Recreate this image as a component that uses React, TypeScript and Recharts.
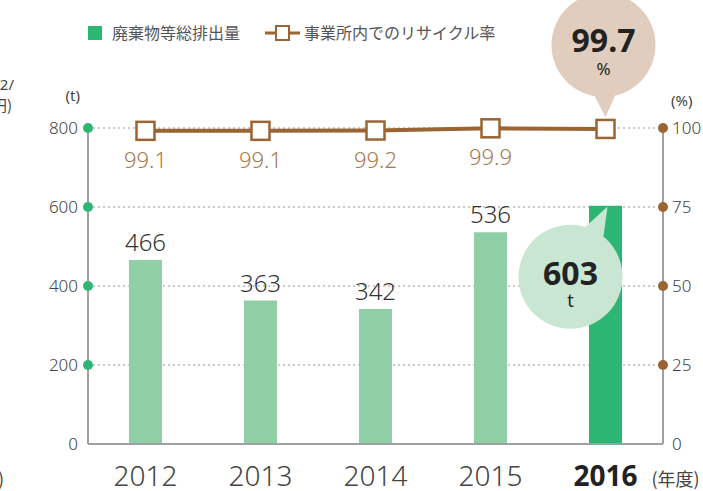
import { ComposedChart, Bar, Line, XAxis, YAxis, CartesianGrid, Cell, LabelList } from 'recharts'

const years = ['2012', '2013', '2014', '2015', '2016']
const emissions = [466, 363, 342, 536, 603]
const recycleRate = [99.1, 99.1, 99.2, 99.9, 99.7]
const leftTicks = [0, 200, 400, 600, 800]
const rightTicks = [0, 25, 50, 75, 100]
const highlightYear = '2016'

const data = years.map((year, i) => ({ year, emissions: emissions[i], rate: recycleRate[i] }))

const W = 703
const H = 491
const PLOT_LEFT = 88
const RIGHT_AXIS_W = 40
const PLOT_RIGHT = W - RIGHT_AXIS_W
const FONT = "'Noto Sans', 'Noto Sans CJK JP', sans-serif"
const JP = "'Noto Sans CJK JP', sans-serif"

const GREEN = '#2db673'
const LIGHT_GREEN = '#8fcfa6'
const BROWN = '#9a6433'
const AXIS = '#a0a0a0'

function LeftTick({ y, payload }: any) {
  return (
    <g>
      {payload.value !== 0 && <circle cx={PLOT_LEFT} cy={y} r={5} fill={GREEN} />}
      <text x={PLOT_LEFT - 10} y={y + 6} textAnchor="end" fontSize={17} fill="#444" fontFamily={FONT} fontWeight={300}>
        {payload.value}
      </text>
    </g>
  )
}

function RightTick({ y, payload }: any) {
  return (
    <g>
      {payload.value !== 0 && <circle cx={PLOT_RIGHT} cy={y} r={5} fill={BROWN} />}
      <text x={PLOT_RIGHT + 9} y={y + 6} textAnchor="start" fontSize={17} fill="#444" fontFamily={FONT} fontWeight={300}>
        {payload.value}
      </text>
    </g>
  )
}

function YearTick({ x, y, payload }: any) {
  const bold = payload.value === highlightYear
  return (
    <g>
      <text x={x} y={y + 34} textAnchor="middle" fontSize={28} fontWeight={bold ? 700 : 300} fill={bold ? '#222' : '#444'} fontFamily={FONT}>
        {payload.value}
      </text>
      {bold && (
        <text x={x + 46} y={y + 34} fontSize={18} fill="#444" fontFamily={JP}>(年度)</text>
      )}
    </g>
  )
}

function SquareDot({ cx, cy }: any) {
  return <rect x={cx - 9} y={cy - 9} width={18} height={18} fill="#fff" stroke={BROWN} strokeWidth={2.5} />
}

function bubble(cx: number, cy: number, r: number, tipX: number, tipY: number, fill: string) {
  const ang = Math.atan2(tipY - cy, tipX - cx)
  const spread = 0.2
  const p1 = [cx + r * Math.cos(ang - spread), cy + r * Math.sin(ang - spread)]
  const p2 = [cx + r * Math.cos(ang + spread), cy + r * Math.sin(ang + spread)]
  return (
    <g>
      <circle cx={cx} cy={cy} r={r} fill={fill} />
      <polygon points={`${p1[0]},${p1[1]} ${tipX},${tipY} ${p2[0]},${p2[1]}`} fill={fill} />
    </g>
  )
}

function BarValue(props: any) {
  const { x, y, width, value, index } = props
  const cx = x + width / 2
  if (years[index] === highlightYear) {
    const bx = cx - 35
    const by = y + 71
    return (
      <g>
        {bubble(bx, by, 52, cx + 2, y + 1, '#c9e6d3')}
        <text x={bx} y={by + 8} textAnchor="middle" fontSize={32} fontWeight={700} fill="#222" fontFamily={FONT}>{value}</text>
        <text x={bx} y={by + 30} textAnchor="middle" fontSize={18} fill="#222" fontFamily={FONT}>t</text>
      </g>
    )
  }
  return (
    <text x={cx} y={y - 9} textAnchor="middle" fontSize={24} fontWeight={300} fill="#333" fontFamily={FONT}>{value}</text>
  )
}

function RateValue(props: any) {
  const { x, y, value, index } = props
  if (years[index] === highlightYear) {
    const bx = x - 2
    const by = y - 84
    return (
      <g>
        {bubble(bx, by, 52, x, y - 12, '#e0cdbd')}
        <text x={bx} y={by + 7} textAnchor="middle" fontSize={32} fontWeight={700} fill="#222" fontFamily={FONT}>{value}</text>
        <text x={bx} y={by + 30} textAnchor="middle" fontSize={17} fill="#222" fontFamily={FONT}>%</text>
      </g>
    )
  }
  return (
    <text x={x} y={y + 37} textAnchor="middle" fontSize={22} fontWeight={300} fill="#a5794f" fontFamily={FONT}>{value.toFixed(1)}</text>
  )
}

export default function App() {
  return (
    <div style={{ position: 'absolute', left: 0, top: 0, width: W, height: H, background: '#fff', overflow: 'hidden', fontFamily: FONT }}>
      <ComposedChart width={W} height={H} data={data} margin={{ top: 128, right: 0, left: 0, bottom: 0 }}>
        <CartesianGrid vertical={false} stroke="#999" strokeDasharray="2 3" yAxisId="left" />
        <XAxis dataKey="year" height={47} tick={<YearTick />} tickLine={false} axisLine={{ stroke: AXIS, strokeWidth: 2 }} />
        <YAxis yAxisId="left" width={PLOT_LEFT} domain={[0, 800]} ticks={leftTicks} tick={<LeftTick />} tickLine={false} axisLine={{ stroke: AXIS, strokeWidth: 2 }} />
        <YAxis yAxisId="right" orientation="right" width={RIGHT_AXIS_W} domain={[0, 100]} ticks={rightTicks} tick={<RightTick />} tickLine={false} axisLine={{ stroke: AXIS, strokeWidth: 2 }} />
        <Bar yAxisId="left" dataKey="emissions" barSize={33} isAnimationActive={false}>
          {data.map(d => (
            <Cell key={d.year} fill={d.year === highlightYear ? GREEN : LIGHT_GREEN} />
          ))}
          <LabelList dataKey="emissions" content={<BarValue />} />
        </Bar>
        <Line yAxisId="right" dataKey="rate" stroke={BROWN} strokeWidth={4} dot={<SquareDot />} activeDot={false} isAnimationActive={false}>
          <LabelList dataKey="rate" content={<RateValue />} />
        </Line>
      </ComposedChart>

      <svg width={W} height={H} style={{ position: 'absolute', left: 0, top: 0, pointerEvents: 'none' }}>
        <text x={80} y={101} textAnchor="end" fontSize={15} fill="#444" fontFamily={FONT}>(t)</text>
        <text x={671} y={106} fontSize={15} fill="#444" fontFamily={FONT}>(%)</text>
        <text x={14} y={90} textAnchor="end" fontSize={15} fill="#444" fontFamily={FONT}>2/</text>
        <text x={12} y={111} textAnchor="end" fontSize={15} fill="#444" fontFamily={JP}>億円)</text>
        <text x={4} y={486} textAnchor="end" fontSize={18} fill="#444" fontFamily={JP}>)</text>
        {/* legend */}
        <rect x={88} y={26} width={14} height={14} fill={GREEN} />
        <text x={112} y={39} fontSize={16} fill="#555" fontFamily={JP}>廃棄物等総排出量</text>
        <line x1={265} y1={33} x2={300} y2={33} stroke={BROWN} strokeWidth={3} />
        <rect x={276} y={26} width={13} height={14} fill="#fff" stroke={BROWN} strokeWidth={2} />
        <text x={304} y={39} fontSize={16} fill="#555" fontFamily={JP}>事業所内でのリサイクル率</text>
      </svg>
    </div>
  )
}
